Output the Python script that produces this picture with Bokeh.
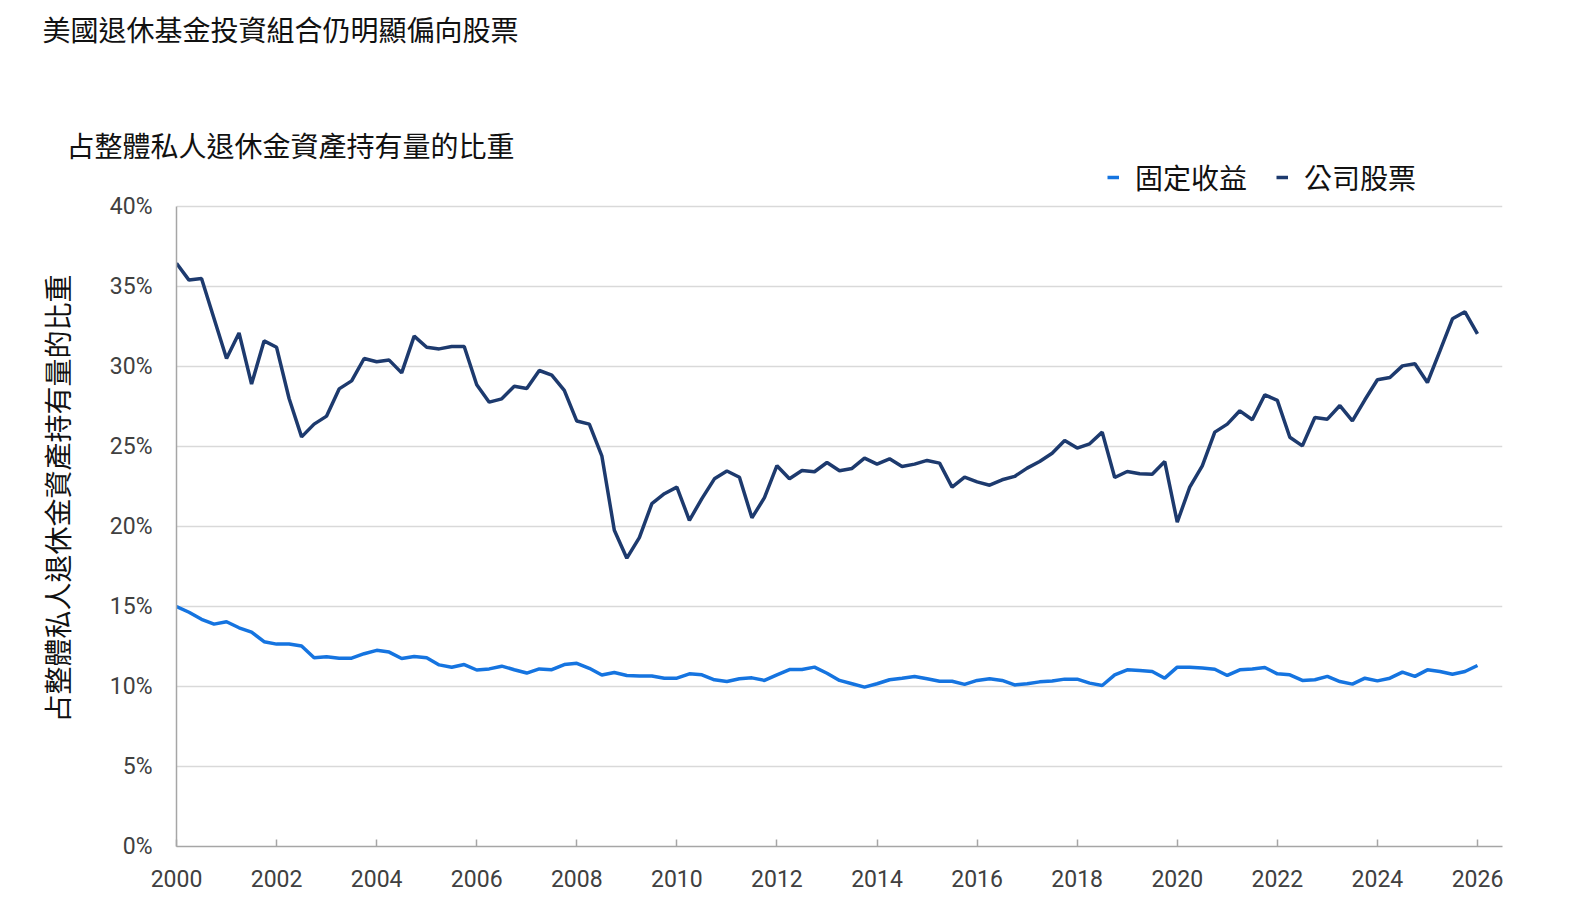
from bokeh.plotting import figure
from bokeh.models import (Legend, LegendItem, FixedTicker, Title,
                          PrintfTickFormatter, Range1d)
from bokeh.embed import file_html
from bokeh.resources import INLINE

title_text = "美國退休基金投資組合仍明顯偏向股票"
subtitle_text = "占整體私人退休金資產持有量的比重"
series_names = ["固定收益", "公司股票"]

# quarterly observations, 2000Q1 .. 2026Q1
quarters = [2000 + q / 4 for q in range(105)]

fixed_income = [
    15.0, 14.64, 14.2, 13.9, 14.05, 13.67, 13.4, 12.8, 12.65, 12.66,
    12.53, 11.8, 11.86, 11.77, 11.77, 12.05, 12.26, 12.15, 11.75, 11.88,
    11.8, 11.35, 11.2, 11.37, 11.03, 11.1, 11.27, 11.05, 10.84, 11.1,
    11.05, 11.37, 11.45, 11.14, 10.72, 10.87, 10.69, 10.65, 10.65, 10.52,
    10.52, 10.79, 10.73, 10.42, 10.31, 10.48, 10.54, 10.38, 10.73, 11.06,
    11.06, 11.21, 10.83, 10.38, 10.17, 9.96, 10.17, 10.42, 10.52, 10.63,
    10.48, 10.33, 10.33, 10.13, 10.38, 10.48, 10.38, 10.1, 10.17, 10.29,
    10.35, 10.46, 10.46, 10.21, 10.06, 10.73, 11.04, 11.0, 10.94, 10.52,
    11.21, 11.21, 11.15, 11.08, 10.69, 11.04, 11.1, 11.19, 10.79, 10.73,
    10.38, 10.42, 10.63, 10.31, 10.15, 10.52, 10.35, 10.52, 10.9, 10.63,
    11.04, 10.94, 10.77, 10.94, 11.31,
]

corporate_equity = [
    36.45, 35.4, 35.5, 33.0, 30.5, 32.1, 28.9, 31.6, 31.2, 28.0,
    25.6, 26.4, 26.9, 28.6, 29.1, 30.5, 30.3, 30.4, 29.6, 31.9,
    31.2, 31.1, 31.25, 31.25, 28.86, 27.77, 27.98, 28.76, 28.62, 29.75,
    29.46, 28.51, 26.59, 26.4, 24.42, 19.77, 18.02, 19.3, 21.43, 22.05,
    22.46, 20.39, 21.74, 22.98, 23.47, 23.08, 20.54, 21.8, 23.8, 22.98,
    23.5, 23.42, 24.0, 23.48, 23.63, 24.27, 23.9, 24.23, 23.75, 23.9,
    24.13, 23.96, 22.46, 23.08, 22.79, 22.58, 22.92, 23.13, 23.65, 24.06,
    24.58, 25.38, 24.9, 25.17, 25.9, 23.06, 23.44, 23.3, 23.27, 24.06,
    20.27, 22.46, 23.79, 25.9, 26.4, 27.23, 26.67, 28.23, 27.88, 25.58,
    25.04, 26.81, 26.71, 27.56, 26.6, 27.92, 29.17, 29.31, 30.04, 30.17,
    29.0, 30.98, 32.98, 33.42, 32.04,
]

year_ticks = list(range(2000, 2027, 2))
pct_ticks = [0, 5, 10, 15, 20, 25, 30, 35, 40]

CJK = "Noto Sans CJK TC"
NUM = "Roboto"
BLUE = "#1574e0"
NAVY = "#1d3a6e"
INK = "#111111"

# frame runs from y=150 to 846 px; 40% sits at 206 px and the strip above
# it holds the legend, so the y range reaches a little past 40
p = figure(
    width=1554, height=900,
    x_range=Range1d(2000, 2026.5), y_range=Range1d(0, 43.5),
    output_backend="svg", toolbar_location=None,
    min_border_left=176, min_border_right=52,
    min_border_top=150, min_border_bottom=54,
)
p.outline_line_color = None

r_fixed = p.line(quarters, fixed_income, line_width=3.5, color=BLUE)
r_equity = p.line(quarters, corporate_equity, line_width=3.5, color=NAVY)

p.xgrid.grid_line_color = None
p.ygrid.grid_line_color = "#d9d9d9"
p.ygrid.grid_line_width = 1.5

p.xaxis.ticker = FixedTicker(ticks=year_ticks)
p.yaxis.ticker = FixedTicker(ticks=pct_ticks)
p.yaxis.formatter = PrintfTickFormatter(format="%d%%")
p.yaxis.bounds = (0, 40)
for ax in (p.xaxis, p.yaxis):
    ax.axis_line_color = "#a6a6a6"
    ax.axis_line_width = 1.5
    ax.major_tick_line_color = "#a6a6a6"
    ax.major_tick_line_width = 1.5
    ax.minor_tick_line_color = None
    ax.major_label_text_font = NUM
    ax.major_label_text_font_size = "23px"
    ax.major_label_text_color = "#404040"
p.xaxis.major_tick_in = 7
p.xaxis.major_tick_out = 0
p.xaxis.major_label_standoff = 23
p.yaxis.major_tick_in = 0
p.yaxis.major_tick_out = 0
p.yaxis.major_label_standoff = 24


def cjk_title(text, **kw):
    return Title(text=text, text_font=CJK, text_font_size="28px",
                 text_font_style="normal", text_color=INK, **kw)


# stacked outward from the frame: subtitle, an empty spacer, main title
p.add_layout(cjk_title(subtitle_text, align="left", offset=-110,
                       standoff=-28), "above")
p.add_layout(cjk_title(" ", align="left", standoff=40), "above")
p.add_layout(cjk_title(title_text, align="left", offset=-134,
                       standoff=12), "above")
p.add_layout(cjk_title(subtitle_text, align="center", standoff=60), "left")

legend = Legend(
    items=[LegendItem(label=series_names[0], renderers=[r_fixed]),
           LegendItem(label=series_names[1], renderers=[r_equity])],
    orientation="horizontal", location=(931, 649),
    padding=0, margin=0, spacing=29, label_standoff=16,
    glyph_width=12, glyph_height=28, label_height=28,
    label_text_font=CJK, label_text_font_size="28px",
    label_text_color=INK, background_fill_alpha=0,
    border_line_color=None,
)
p.add_layout(legend, "center")

open("out.html", "w").write(file_html(p, INLINE))
